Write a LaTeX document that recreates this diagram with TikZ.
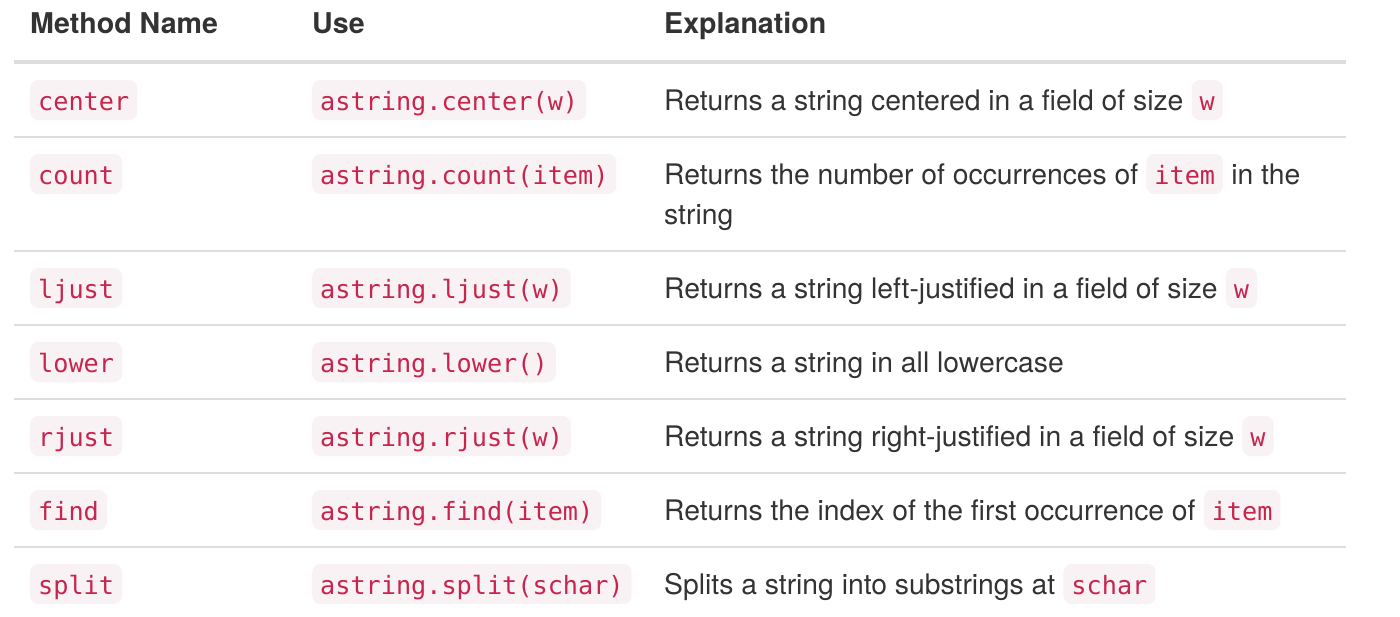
\documentclass[tikz,border=0pt]{standalone}
\usepackage{fontspec}
\setmainfont{TeX Gyre Heros}
\setmonofont{DejaVu Sans Mono}
\definecolor{txt}{HTML}{333333}
\definecolor{codefg}{HTML}{C7254E}
\definecolor{codebg}{HTML}{F9F2F4}
\definecolor{rulecol}{HTML}{DDDDDD}
\begin{document}
\begin{tikzpicture}[x=1pt,y=-1pt,
  body/.style={inner sep=0pt, anchor=base west, text=txt, font=\fontsize{28.3}{40}\selectfont},
  head/.style={inner sep=0pt, anchor=base west, text=txt, font=\fontsize{28.6}{40}\selectfont\bfseries},
  code/.style={anchor=base west, fill=codebg, text=codefg, rounded corners=8pt,
    inner xsep=8pt, inner ysep=0pt, text height=30pt, text depth=10pt,
    font=\fontsize{25.2}{30}\selectfont\ttfamily},
  thinrule/.style={draw=rulecol, line width=2pt},
  thickrule/.style={draw=rulecol, line width=4pt}]
\useasboundingbox (0,0) rectangle (1400,616);
\fill[white] (0,0) rectangle (1400,616);
% header
\node[head] (h1) at (30,33) {Method Name};
\node[head] (h2) at (312,33) {Use};
\node[head] (h3) at (664,33) {Explanation};
\draw[thickrule] (14,62) -- (1346,62);
% rules
\foreach \yy in {137,251,325,399,473,547}
  \draw[thinrule] (14,\yy) -- (1346,\yy);
% row 1
\node[code] (m1) at (30,110) {center};
\node[code] (u1) at (312,110) {astring.center(w)};
\node[body] (e1) at (664,110) {Returns a string centered in a field of size};
\node[code] (e1c) at ([xshift=7.8pt]e1.base east) {w};
% row 2
\node[code] (m2) at (30,184) {count};
\node[code] (u2) at (312,184) {astring.count(item)};
\node[body] (e2) at (664,184) {Returns the number of occurrences of};
\node[code] (e2c) at ([xshift=7.8pt]e2.base east) {item};
\node[body] (e2b) at ([xshift=7.8pt]e2c.base east) {in the};
\node[body] (e2d) at (664,224) {string};
% row 3
\node[code] (m3) at (30,298) {ljust};
\node[code] (u3) at (312,298) {astring.ljust(w)};
\node[body] (e3) at (664,298) {Returns a string left-justified in a field of size};
\node[code] (e3c) at ([xshift=7.8pt]e3.base east) {w};
% row 4
\node[code] (m4) at (30,372) {lower};
\node[code] (u4) at (312,372) {astring.lower()};
\node[body] (e4) at (664,372) {Returns a string in all lowercase};
% row 5
\node[code] (m5) at (30,446) {rjust};
\node[code] (u5) at (312,446) {astring.rjust(w)};
\node[body] (e5) at (664,446) {Returns a string right-justified in a field of size};
\node[code] (e5c) at ([xshift=7.8pt]e5.base east) {w};
% row 6
\node[code] (m6) at (30,520) {find};
\node[code] (u6) at (312,520) {astring.find(item)};
\node[body] (e6) at (664,520) {Returns the index of the first occurrence of};
\node[code] (e6c) at ([xshift=7.8pt]e6.base east) {item};
% row 7
\node[code] (m7) at (30,594) {split};
\node[code] (u7) at (312,594) {astring.split(schar)};
\node[body] (e7) at (664,594) {Splits a string into substrings at};
\node[code] (e7c) at ([xshift=7.8pt]e7.base east) {schar};
\end{tikzpicture}
\end{document}
